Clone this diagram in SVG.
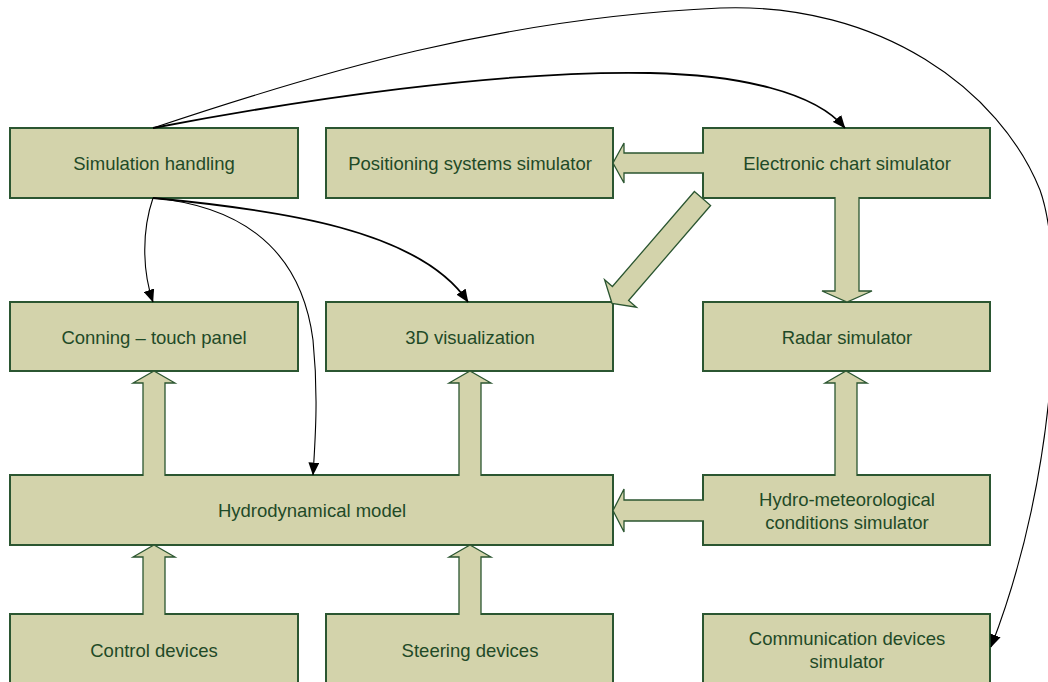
<svg xmlns="http://www.w3.org/2000/svg" width="1048" height="682" viewBox="0 0 1048 682">
<defs>
<style>
.box{fill:#d3d3ab;stroke:#2b5631;stroke-width:2}
.t{font-family:"Liberation Sans",Arial,sans-serif;font-size:18.5px;fill:#1f4a27;text-anchor:middle}
.blk{fill:#d3d3ab;stroke:#2b5631;stroke-width:1.3;stroke-linejoin:miter}
.cv{fill:none;stroke:#000;stroke-width:1.1}
.cvb{fill:none;stroke:#000;stroke-width:1.8}
</style>
<marker id="ah" viewBox="0 0 12 10" refX="11.5" refY="5" markerWidth="13" markerHeight="11" markerUnits="userSpaceOnUse" orient="auto">
<path d="M0,0 L12,5 L0,10 z" fill="#000"/>
</marker>
</defs>
<rect width="1048" height="682" fill="#fff"/>

<g id="n-simulation-handling"><rect class="box" x="10" y="128" width="288" height="70"/><text class="t" x="154" y="170">Simulation handling</text></g>
<g id="n-positioning"><rect class="box" x="326" y="128" width="287" height="70"/><text class="t" x="470" y="170">Positioning systems simulator</text></g>
<g id="n-electronic-chart"><rect class="box" x="703" y="128" width="287" height="70"/><text class="t" x="847" y="170">Electronic chart simulator</text></g>
<g id="n-conning"><rect class="box" x="10" y="302" width="288" height="69"/><text class="t" x="154" y="344">Conning – touch panel</text></g>
<g id="n-3d"><rect class="box" x="326" y="302" width="287" height="69"/><text class="t" x="470" y="344">3D visualization</text></g>
<g id="n-radar"><rect class="box" x="703" y="302" width="287" height="69"/><text class="t" x="847" y="344">Radar simulator</text></g>
<g id="n-hydrodynamical"><rect class="box" x="10" y="475" width="603" height="70"/><text class="t" x="312" y="517">Hydrodynamical model</text></g>
<g id="n-hydromet"><rect class="box" x="703" y="475" width="287" height="70"/><text class="t" x="847" y="506">Hydro-meteorological</text><text class="t" x="847" y="529">conditions simulator</text></g>
<g id="n-control"><rect class="box" x="10" y="614" width="288" height="72"/><text class="t" x="154" y="657">Control devices</text></g>
<g id="n-steering"><rect class="box" x="326" y="614" width="287" height="72"/><text class="t" x="470" y="657">Steering devices</text></g>
<g id="n-communication"><rect class="box" x="703" y="614" width="287" height="72"/><text class="t" x="847" y="645">Communication devices</text><text class="t" x="847" y="668">simulator</text></g>

<g id="connectors">
<!-- block arrows -->
<path class="blk" d="M704,153 H624 V143 L613,163 L624,183 V173 H704"/>
<path class="blk" d="M835,197 V291 H822 L847,302 L872,291 H859 V197"/>
<polygon class="blk" points="694.4,191.5 710.6,205.5 628.6,300.5 636.4,307.2 612,303.3 604.6,279.8 612.4,286.5"/>
<path class="blk" d="M143,476 V383 H133 L154,371 L175,383 H165 V476"/>
<path class="blk" d="M459,476 V383 H449 L470,371 L491,383 H481 V476"/>
<path class="blk" d="M835,476 V383 H825 L846,371 L867,383 H857 V476"/>
<path class="blk" d="M704,500 H624 V489 L613,510.5 L624,532 V521 H704"/>
<path class="blk" d="M143,615 V557 H133 L154,545 L175,557 H165 V615"/>
<path class="blk" d="M459,615 V557 H449 L470,545 L491,557 H481 V615"/>
<!-- curved connectors -->
<path class="cv" marker-end="url(#ah)" d="M153,128 C320,72 500,18 720,8 C880,2 1000,90 1040,190 C1065,260 1060,470 991,647"/>
<path class="cvb" marker-end="url(#ah)" d="M153,128 C300,100 500,70 650,73 C740,75 815,92 845,128"/>
<path class="cv" marker-end="url(#ah)" d="M153,198 C142,230 142,270 153,302"/>
<path class="cvb" marker-end="url(#ah)" d="M153,198 C280,210 420,230 468,302"/>
<path class="cv" marker-end="url(#ah)" d="M153,198 C230,205 300,240 313,340 C318,390 316,430 313,475"/>
</g>
</svg>
